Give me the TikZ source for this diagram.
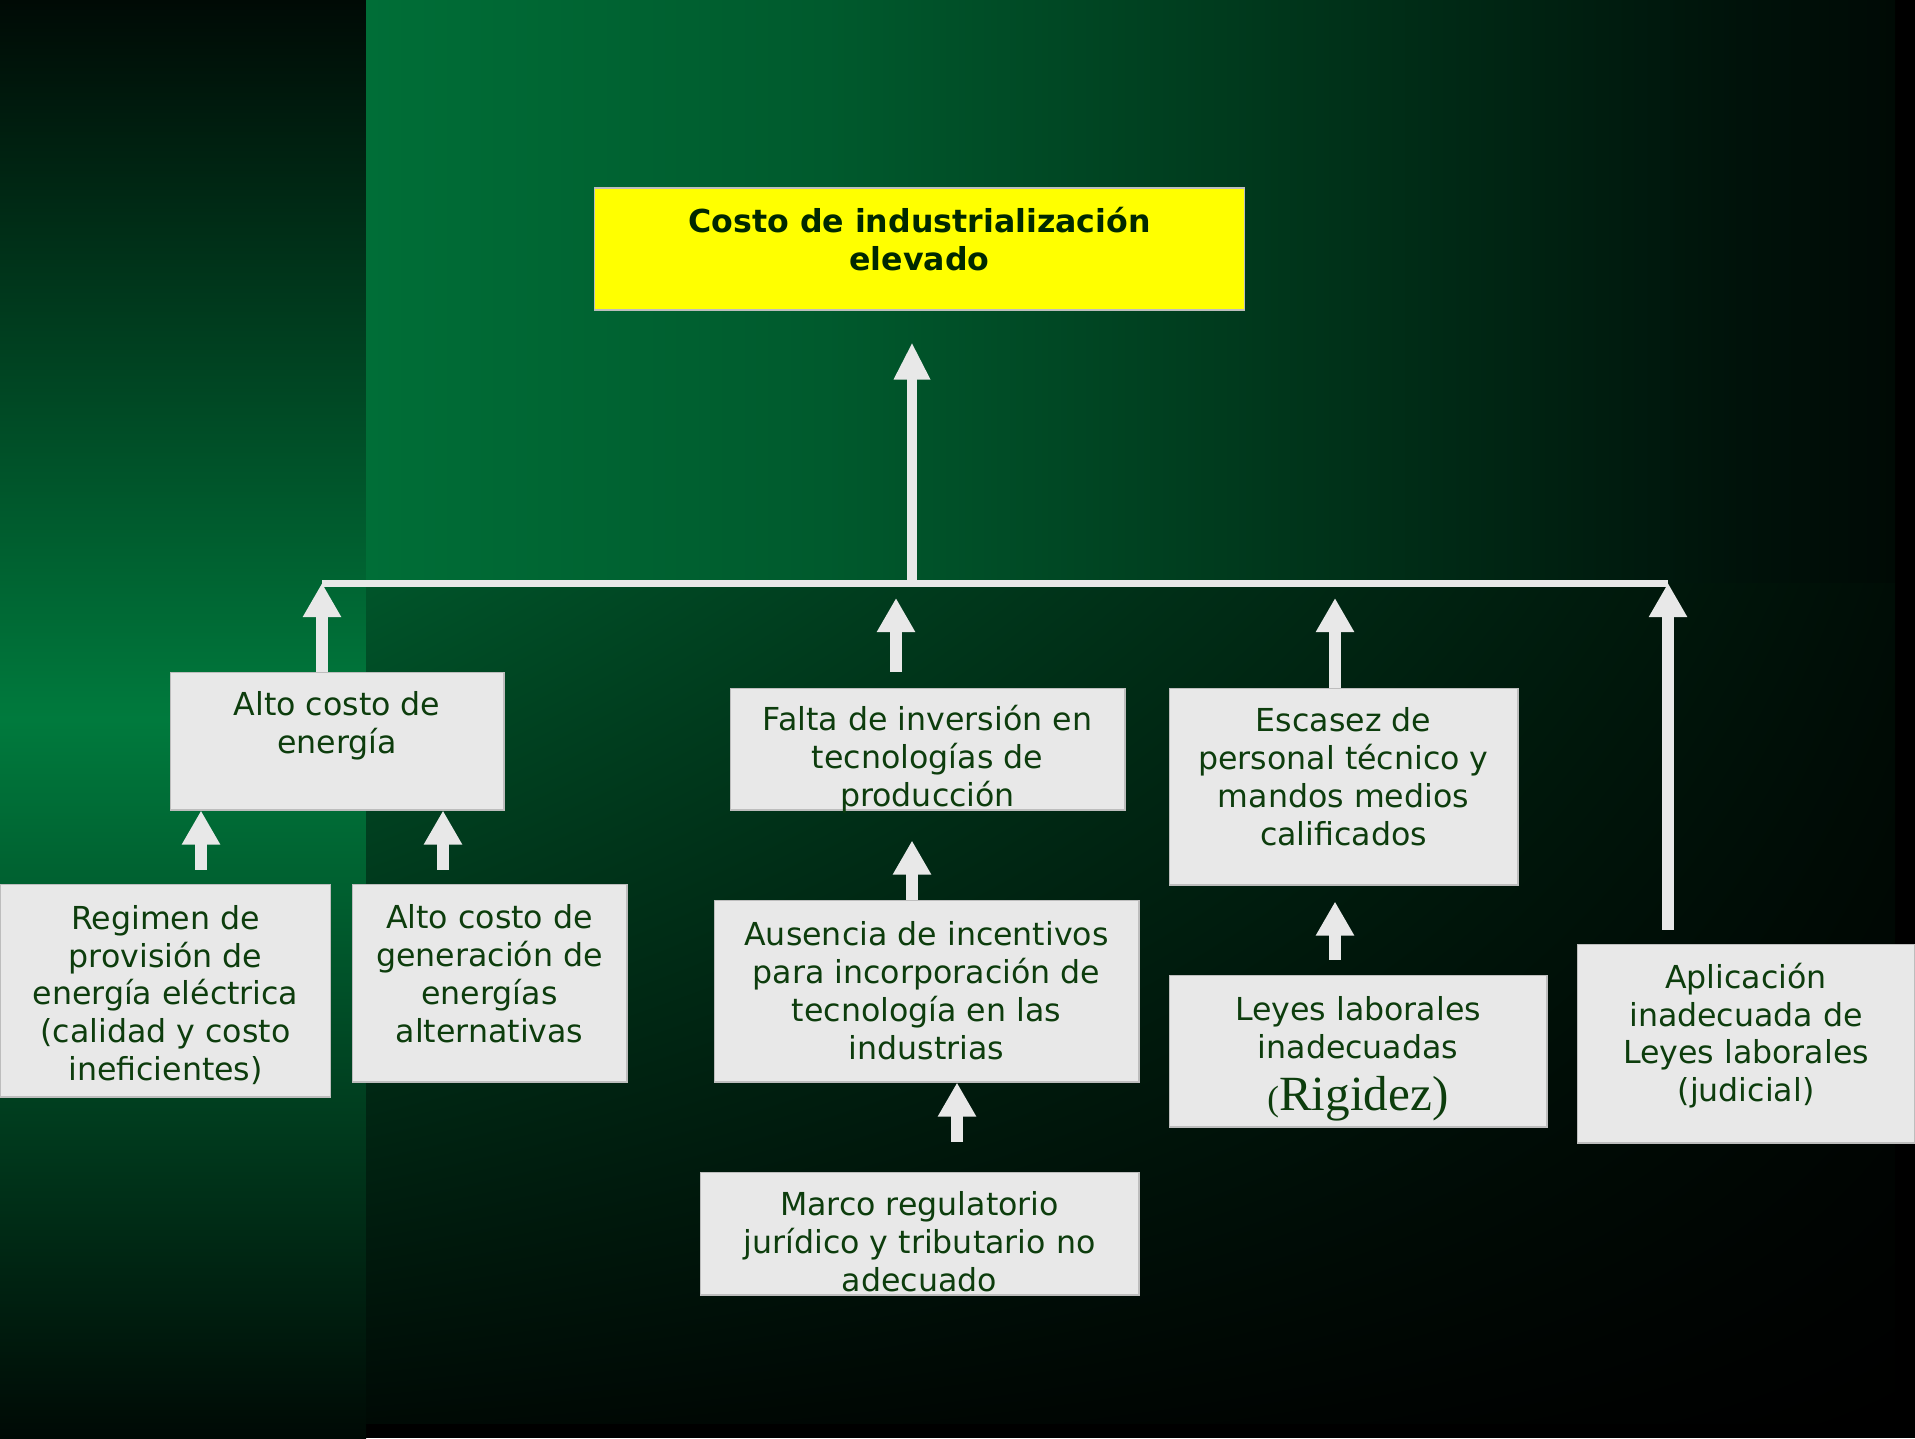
\documentclass[tikz,border=0pt]{standalone}
\usepackage{fontspec}
\setmainfont{DejaVu Sans}
\newfontfamily\rigfont{Liberation Serif}
\usetikzlibrary{arrows.meta,shadings}

\definecolor{bgdark}{HTML}{000A05}
\definecolor{bglight}{HTML}{007A3D}
\definecolor{paneltop}{HTML}{006E37}
\definecolor{panelB}{HTML}{005A2D}
\definecolor{panelC}{HTML}{00361B}
\definecolor{panelD}{HTML}{00120A}
\definecolor{panellow}{HTML}{00552A}
\definecolor{panelend}{HTML}{000D06}
\definecolor{goalfill}{HTML}{FFFF00}
\definecolor{boxgray}{HTML}{E8E8E8}
\definecolor{boxline}{HTML}{BDBDBD}
\definecolor{txtgreen}{HTML}{0D3D0D}
\definecolor{goaltxt}{HTML}{002800}
\definecolor{arrowgray}{HTML}{E8E8E8}

\pgfdeclarehorizontalshading{panelfade}{100bp}{color(0bp)=(paneltop);
  color(25bp)=(paneltop); color(40bp)=(panelB); color(55bp)=(panelC);
  color(70bp)=(panelD); color(75bp)=(bgdark); color(100bp)=(bgdark)}

\tikzset{
  cause/.style={draw=boxline, line width=0.6pt, fill=boxgray, text=txtgreen,
    align=center, inner sep=0pt, font=\fontsize{18}{21.6}\selectfont},
  goal/.style={cause, fill=goalfill, text=goaltxt,
    font=\fontsize{18}{21.6}\selectfont\bfseries},
  uparrow/.style={draw=arrowgray, line width=0.24cm,
    -{Triangle[width=0.72cm,length=0.68cm]}},
  trunk/.style={uparrow, line width=0.2cm,
    -{Triangle[width=0.68cm,length=0.74cm]}},
  barline/.style={draw=arrowgray, line width=0.14cm}
}

\begin{document}
\begin{tikzpicture}[x=0.02cm, y=-0.02cm]
\useasboundingbox (0,0) rectangle (1915,1438);
% background
\fill[black] (0,0) rectangle (1915,1438);
\shade[top color=bgdark, bottom color=bgdark, middle color=bglight]
  (0,0) rectangle (366,1438);
\shade[shading=panelfade] (366,0) rectangle (1895,583);
\shade[upper left=panellow, lower left=bgdark,
  upper right=panelend, lower right=black] (366,583) rectangle (1895,1423);

% boxes
\node[goal, minimum width=13.02cm, minimum height=2.44cm] (costo) at (919.5,249)
  {Costo de industrialización\\elevado\\[-10.4pt]\mbox{}};
\node[cause, minimum width=6.68cm, minimum height=2.76cm] (energia) at (337,741)
  {Alto costo de\\energía\\\mbox{}};
\node[cause, minimum width=7.9cm, minimum height=2.44cm] (falta) at (927.5,749)
  {\mbox{}\\[2.5pt]Falta de inversión en\\tecnologías de\\producción\\[-19.8pt]\mbox{}};
\node[cause, minimum width=6.98cm, minimum height=3.94cm] (escasez) at (1343.5,786.5)
  {Escasez de\\personal técnico y\\mandos medios\\calificados\\[-10.4pt]\mbox{}};
\node[cause, minimum width=6.62cm, minimum height=4.26cm] (regimen) at (165.5,990.5)
  {\mbox{}\\[-2.8pt]Regimen de\\provisión de\\energía eléctrica\\(calidad y costo\\ineficientes)};
\node[cause, minimum width=5.5cm, minimum height=3.96cm] (generacion) at (489.5,983)
  {Alto costo de\\generación de\\energías\\alternativas\\[-10.4pt]\mbox{}};
\node[cause, minimum width=8.5cm, minimum height=3.64cm] (ausencia) at (926.5,991)
  {Ausencia de incentivos\\para incorporación de\\tecnología en las\\industrias};
\node[cause, minimum width=8.78cm, minimum height=2.46cm] (marco) at (919.5,1233.5)
  {\mbox{}\\[1.8pt]Marco regulatorio\\jurídico y tributario no\\adecuado};
\node[cause, minimum width=7.56cm, minimum height=3.04cm] (leyes) at (1358,1051)
  {\mbox{}\\[0.5pt]Leyes laborales\\inadecuadas\\[8pt]{\rigfont\fontsize{28}{30}\selectfont
  {\fontsize{20}{22}\selectfont(}Rigidez)}};
\node[cause, minimum width=6.76cm, minimum height=3.98cm] (aplicacion) at (1746,1043.5)
  {Aplicación\\inadecuada de\\Leyes laborales\\(judicial)\\[-8.9pt]\mbox{}};

% arrows
\coordinate (barL) at (322,583);
\coordinate (barR) at (1668,583);
\coordinate (join) at (912,583);
\coordinate (xF) at (896,0);
\coordinate (xE) at (1335,0);
\coordinate (xR) at (201,0);
\coordinate (xG) at (443,0);
\coordinate (xM) at (957,0);

\draw[barline] (barL) -- (barR);
\draw[trunk] (join) -- ([yshift=-0.64cm]costo.south -| join);
\draw[uparrow] (energia.north -| barL) -- (barL);
\draw[uparrow] ([yshift=0.32cm]falta.north -| xF) -- ([yshift=-0.3cm]barL -| xF);
\draw[uparrow] (escasez.north -| xE) -- ([yshift=-0.3cm]barR -| xE);
\draw[uparrow] ([yshift=0.28cm]aplicacion.north -| barR) -- (barR);
\draw[uparrow] ([yshift=0.28cm]regimen.north -| xR) -- (energia.south -| xR);
\draw[uparrow] ([yshift=0.28cm]generacion.north -| xG) -- (energia.south -| xG);
\draw[uparrow] (ausencia.north -| join) -- ([yshift=-0.6cm]falta.south -| join);
\draw[uparrow] ([yshift=0.6cm]marco.north -| xM) -- (ausencia.south -| xM);
\draw[uparrow] ([yshift=0.3cm]leyes.north -| xE) -- ([yshift=-0.32cm]escasez.south -| xE);
\end{tikzpicture}
\end{document}
